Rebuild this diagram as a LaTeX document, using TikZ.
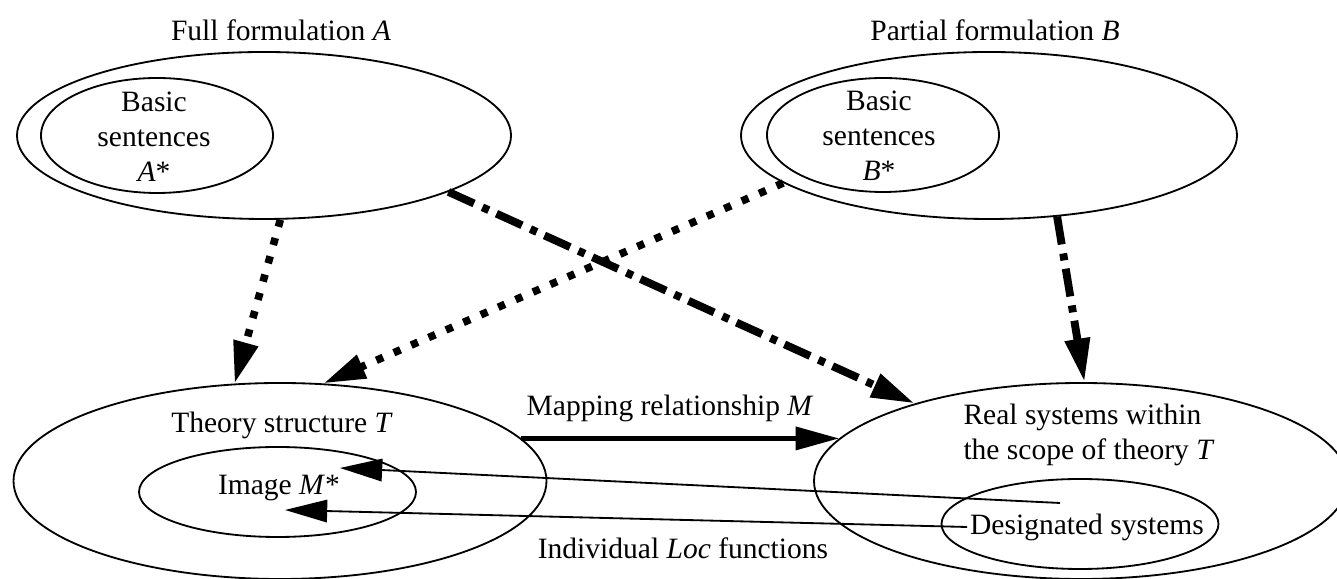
\documentclass[tikz,border=0pt]{standalone}
\usepackage{fontspec}
\setmainfont{Liberation Serif}
\usetikzlibrary{shapes.geometric, arrows.meta, positioning}
\tikzset{
  dg/set/.style={ellipse, draw=black, line width=1.3pt, inner sep=0pt},
  dg/txt/.style={font=\fontsize{21}{25}\selectfont, align=center,
    inner sep=2pt},
  dg/dot/.style={line width=5.4pt, dash pattern=on 5.2pt off 8.3pt,
    -{Triangle[length=30pt,width=17pt]}},
  dg/dashdot/.style={line width=5.6pt,
    dash pattern=on 20pt off 6.5pt on 5pt off 6pt,
    -{Triangle[length=31pt,width=17pt]}},
  dg/map/.style={line width=3.6pt, -{Triangle[length=31pt,width=16pt]}},
  dg/loc/.style={line width=1.3pt, -{Triangle[length=30pt,width=16pt]}}
}
\begin{document}
\begin{tikzpicture}
  \useasboundingbox (0,0) rectangle (33.425,14.475);
  \node[dg/set, minimum width=12.35cm, minimum height=4.175cm] (fullA)
        at (6.6,11.0875) {};
  \node[dg/set, minimum width=5.8cm, minimum height=2.875cm] (basA)
        at (3.925,11.0875) {};
  \node[dg/set, minimum width=12.4cm, minimum height=4.175cm] (partB)
        at (24.725,11.0875) {};
  \node[dg/set, minimum width=5.8cm, minimum height=2.85cm] (basB)
        at (22.075,11.1) {};
  \node[dg/set, minimum width=13.325cm, minimum height=4.9cm] (theoT)
        at (7.0,2.45) {};
  \node[dg/set, minimum width=6.925cm, minimum height=2.25cm] (imgM)
        at (6.9375,2.175) {};
  \node[dg/set, minimum width=13.35cm, minimum height=4.9cm] (realS)
        at (27.025,2.45) {};
  \node[dg/set, minimum width=6.925cm, minimum height=2.25cm] (desS)
        at (27.0,1.375) {};

  \node[dg/txt] (lblA) at (7.025,13.725) {Full formulation \textit{A}};
  \node[dg/txt] (lblB) at (24.875,13.725) {Partial formulation \textit{B}};
  \node[dg/txt] (lblAs) at (3.85,11.05) {Basic\\sentences\\\textit{A}*};
  \node[dg/txt] (lblBs) at (21.975,11.075) {Basic\\sentences\\\textit{B}*};
  \node[dg/txt] (lblT) at (7.05,3.85) {Theory structure \textit{T}};
  \node[dg/txt] (lblM) at (6.975,2.275) {Image \textit{M}*};
  \node[dg/txt, align=left] (lblR) at (27.225,3.6)
        {Real systems within\\the scope of theory \textit{T}};
  \node[dg/txt] (lblD) at (27.175,1.3) {Designated systems};
  \node[dg/txt] (lblMap) at (16.75,4.275) {Mapping relationship \textit{M}};
  \node[dg/txt] (lblLoc) at (17.075,0.775) {Individual \textit{Loc} functions};

  \coordinate (locA) at (26.5,1.9);
  \coordinate (tipA) at (8.5,2.775);
  \coordinate (tipB) at (7.125,1.725);

  \draw[dg/dot] (fullA.-79) -- (theoT.115);
  \draw[dg/dot] (partB.193) -- (theoT.66);
  \draw[dg/dashdot] (fullA.-17) -- (realS.155);
  \draw[dg/dashdot] (partB.-50) -- (realS.88);
  \draw[dg/map] (theoT.10) -- (theoT.10 -| realS.170);
  \draw[dg/loc] (locA) -- (tipA);
  \draw[dg/loc] (lblD.west) -- (tipB);
\end{tikzpicture}
\end{document}
